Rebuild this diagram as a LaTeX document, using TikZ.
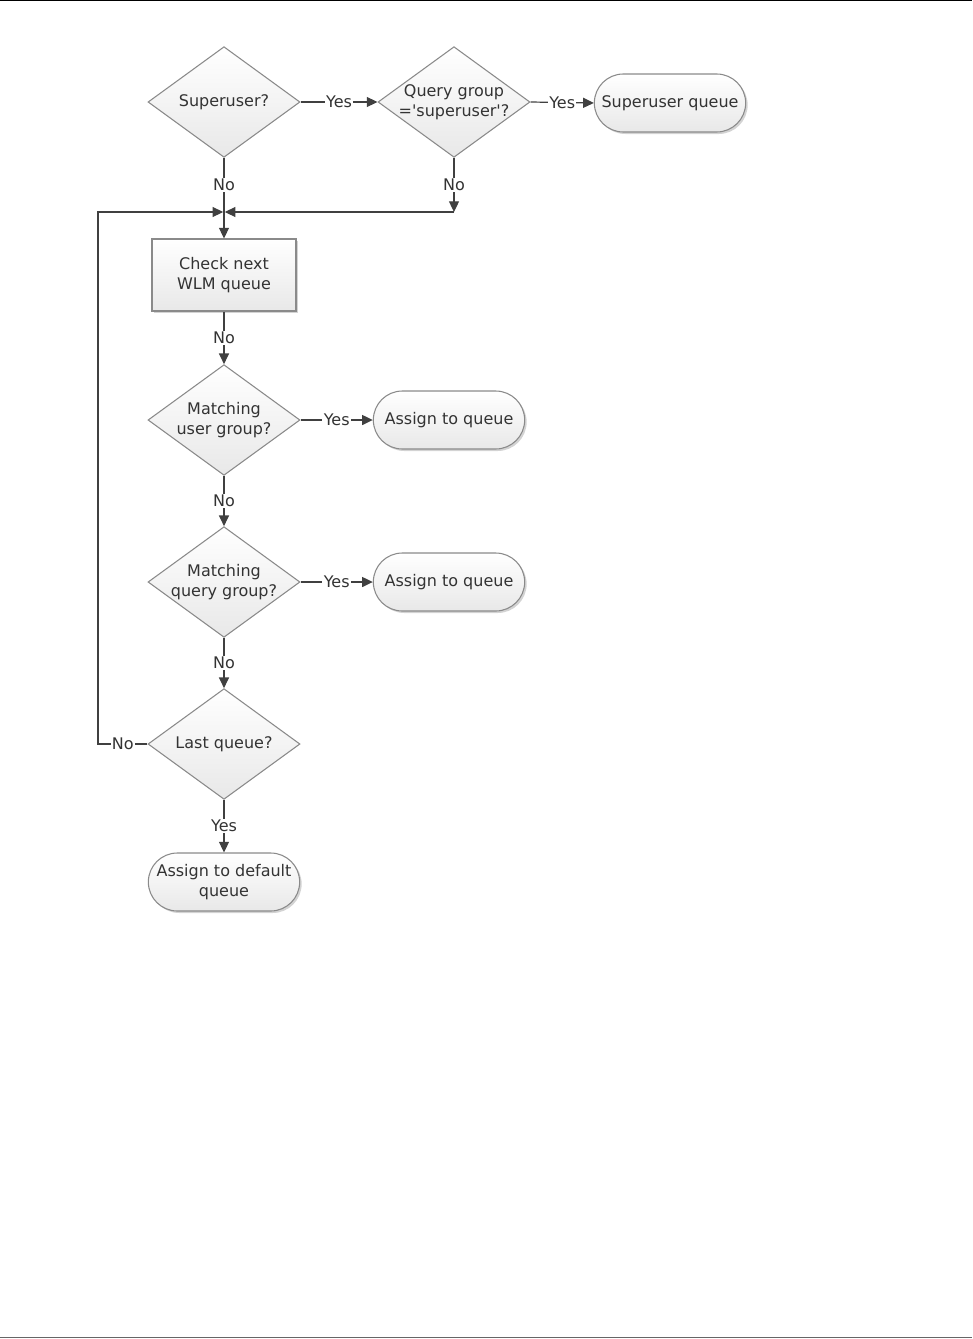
\documentclass[tikz,border=0pt]{standalone}
\usepackage{fontspec}
\setmainfont{DejaVu Sans}
\usetikzlibrary{arrows.meta,shapes.geometric,shapes.misc,shadows}

\definecolor{edgegray}{HTML}{8A8A8A}
\definecolor{linegray}{HTML}{404040}
\definecolor{textgray}{HTML}{333333}

\begin{document}
\begin{tikzpicture}[x=0.75pt, y=-0.75pt,
  every node/.style={font=\fontsize{12}{15}\selectfont, text=textgray, align=center},
  decision/.style={diamond, draw=edgegray, line width=0.8pt, aspect=1.38, inner sep=-2pt,
    minimum width=114pt, minimum height=83pt, top color=white, bottom color=gray!18},
  process/.style={rectangle, draw=edgegray, line width=0.8pt, minimum width=108pt, minimum height=54pt,
    top color=white, bottom color=gray!18,
    drop shadow={shadow xshift=1.5pt, shadow yshift=-1.5pt, fill=gray, opacity=0.35}},
  terminal/.style={rounded rectangle, draw=edgegray, line width=0.8pt, minimum width=117.5pt,
    minimum height=43.5pt, inner sep=2pt, top color=white, bottom color=gray!18,
    drop shadow={shadow xshift=1.5pt, shadow yshift=-1.5pt, fill=gray, opacity=0.35}},
  flow/.style={draw=linegray, line width=0.9pt, -{Triangle[length=8pt, width=7.5pt]}},
  lbl/.style={fill=white, inner sep=1pt}]

  \useasboundingbox (0,0) rectangle (972,1339);

  % Page rules
  \draw[line width=1.1pt, black] (0,0.75) -- (972,0.75);
  \draw[line width=1.1pt, gray!80!black] (0,1337.5) -- (972,1337.5);

  % Superuser check
  \node[decision] (su) at (224,102) {Superuser?};
  \node[decision] (qg) at (454,102) {Query group\\=\textquotesingle superuser\textquotesingle?};
  \node[terminal] (sq) at (670,103) {Superuser queue};

  % Queue loop
  \node[process] (ck) at (224,275) {Check next\\WLM queue};
  \node[decision] (mu) at (224,420) {Matching\\user group?};
  \node[terminal] (aqa) at (449,420) {Assign to queue};
  \node[decision] (mq) at (224,582) {Matching\\query group?};
  \node[terminal] (aqb) at (449,582) {Assign to queue};
  \node[decision] (lq) at (224,744) {Last queue?};
  \node[terminal] (df) at (224,882) {Assign to default\\queue};

  \coordinate (join) at (224,212);
  \coordinate (qgc) at (454,212);
  \coordinate (back) at (98,744);

  % Connectors
  \draw[flow] (su.east) -- node[lbl] {Yes} (qg.west);
  \draw[flow] (qg.east) -- node[lbl] {Yes} (sq.west);
  \draw[flow] (su.south) -- node[lbl] {No} (join) -- (ck.north);
  \draw[flow] (qg.south) -- node[lbl] {No} (qgc);
  \draw[flow, shorten >=0.6pt] (qgc) -- (join);
  \draw[flow] (ck.south) -- node[lbl] {No} (mu.north);
  \draw[flow] (mu.east) -- node[lbl] {Yes} (aqa.west);
  \draw[flow] (mu.south) -- node[lbl] {No} (mq.north);
  \draw[flow] (mq.east) -- node[lbl] {Yes} (aqb.west);
  \draw[flow] (mq.south) -- node[lbl] {No} (lq.north);
  \draw[flow, shorten >=0.6pt] (lq.west) -- node[lbl] {No} (back) |- (join);
  \draw[flow] (lq.south) -- node[lbl] {Yes} (df.north);

\end{tikzpicture}
\end{document}
